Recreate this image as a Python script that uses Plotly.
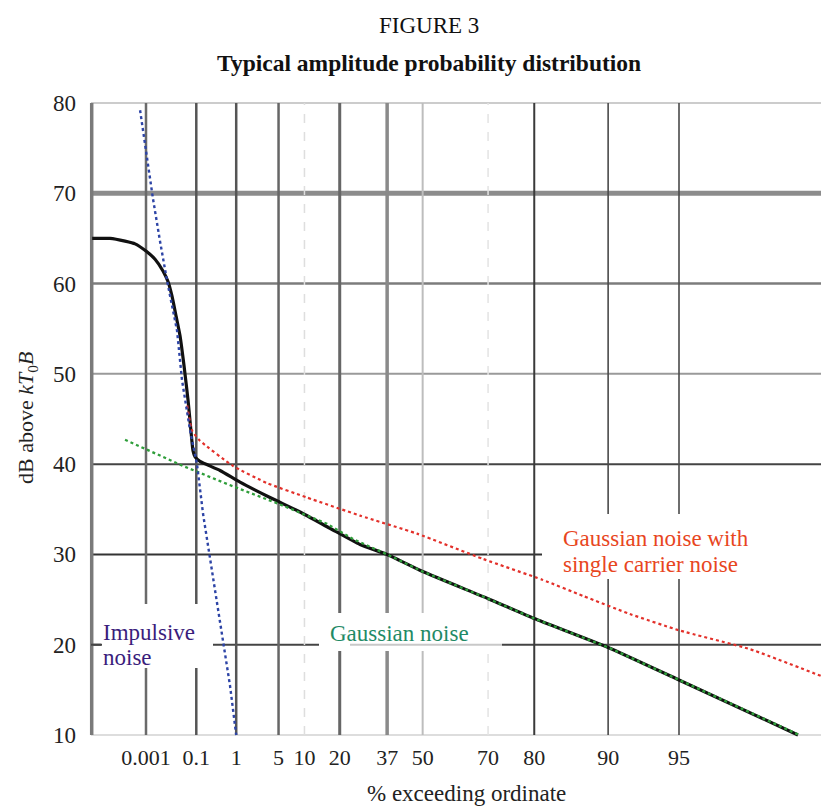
import numpy as np
import plotly.graph_objects as go

# ---------------- data ----------------
XTICK_LABELS = ["0.001", "0.1", "1", "5", "10", "20", "37", "50", "70", "80", "90", "95"]
XTICK_PCT = [0.001, 0.1, 1, 5, 10, 20, 37, 50, 70, 80, 90, 95]
YTICKS = [10, 20, 30, 40, 50, 60, 70, 80]

# composite (black) curve: % exceeding ordinate, dB above kT0B
COMPOSITE_PCT = [2.3e-7, 6.2e-6, 6.5e-5, 2.6e-4, 0.001, 0.00275, 0.0062, 0.0101, 0.0145,
                 0.0207, 0.029, 0.040, 0.055, 0.068, 0.079, 0.092, 0.129, 0.44, 1.19,
                 3.81, 9.0, 16.9, 27.0, 37, 50, 70, 80, 90, 95, 98.48]
COMPOSITE_DB = [65.0, 65.0, 64.7, 64.4, 63.6, 62.7, 61.4, 60.2, 58.6,
                56.4, 54.2, 50.9, 47.0, 43.7, 41.5, 40.8, 40.3, 39.3, 38.0,
                36.3, 34.7, 32.9, 31.1, 30.0, 28.1, 25.1, 22.9, 19.7, 16.1, 10.0]

# Gaussian noise (green dotted)
GAUSS_PCT = [6.5e-5, 0.037, 0.64, 5, 16.0, 24.5, 37, 50, 70, 80, 90, 95, 98.5]
GAUSS_DB = [42.7, 39.8, 37.8, 35.6, 33.4, 31.7, 30.0, 28.1, 25.1, 22.9, 19.7, 16.1, 10.0]

# Gaussian noise with single carrier noise (red dotted)
CARRIER_PCT = [0.051, 0.074, 0.129, 0.86, 3.45, 10.6, 27.0, 48.0, 68.7, 81.4, 87.3,
               91.9, 95.0, 97.54, 98.86]
CARRIER_DB = [46.5, 43.7, 42.6, 39.8, 37.9, 36.3, 34.3, 32.3, 29.5, 27.2, 25.4,
              23.4, 21.6, 19.5, 16.3]

# Impulsive noise (blue dotted)
IMPULSE_PCT = [4.9e-4, 0.00113, 0.0022, 0.0046, 0.0092, 0.0225, 0.034, 0.064, 0.105,
               0.158, 0.246, 0.372, 0.52, 0.74, 1.0]
IMPULSE_DB = [79.2, 73.9, 69.4, 64.7, 60.3, 54.8, 49.3, 43.7, 40.0,
              34.5, 29.5, 24.7, 20.0, 15.5, 10.0]


# Rayleigh-paper abscissa
def ray(pct):
    return -np.log10(-np.log(np.asarray(pct, dtype=float) / 100.0))


# ---------------- layout geometry (page pixels; the page body adds an 8 px offset) ----------------
PAGE_W, PAGE_H = 829, 809
OFF = 8
L_PX, R_PX, T_PX, B_PX = 86, 829, 101, 737
PX_PER_U = 226.7
REF_PX = 146.0
U_REF = float(ray(0.001))
PX_PER_DB = 632.0 / 70.0
x_range = [U_REF - (REF_PX - L_PX) / PX_PER_U, U_REF + (R_PX - REF_PX) / PX_PER_U]
y_range = [10 - (B_PX - 735) / PX_PER_DB, 80 + (103 - T_PX) / PX_PER_DB]


def ux(px):
    return U_REF + (px - REF_PX) / PX_PER_U


def dby(py):
    return 10 + (735 - py) / PX_PER_DB


def xpap(px):
    return (px - L_PX) / (R_PX - L_PX)


def ypap(py):
    return (B_PX - py) / (B_PX - T_PX)


FONT = "Liberation Serif"

fig = go.Figure()

# ---------------- grid lines ----------------
VGRID_STYLE = {
    "0.001": ("#6a6a6a", 2.5, "solid"),
    "0.1": ("#555555", 2.5, "solid"),
    "1": ("#555555", 2.5, "solid"),
    "5": ("#666666", 2.5, "solid"),
    "10": ("#dedede", 1.5, "dash"),
    "20": ("#666666", 3, "solid"),
    "37": ("#8a8a8a", 3.5, "solid"),
    "50": ("#bdbdbd", 2, "solid"),
    "70": ("#e3e3e3", 1.5, "dash"),
    "80": ("#3a3a3a", 2, "solid"),
    "90": ("#4a4a4a", 1.6, "solid"),
    "95": ("#4a4a4a", 1.6, "solid"),
}
HGRID_STYLE = {
    80: ("#cccccc", 2, None),
    70: ("#8c8c8c", 5, None),
    60: ("#7c7c7c", 2.5, None),
    50: ("#9a9a9a", 2, None),
    40: ("#444444", 2, None),
    30: ("#333333", 2, 542),
    20: ("#444444", 2, None),
    10: ("#dddddd", 2, None),
}

shapes = []
for v in YTICKS:
    col, wdt, xend = HGRID_STYLE[v]
    x1 = ux(xend) if xend else x_range[1]
    shapes.append(dict(type="line", xref="x", yref="y", x0=ux(91), x1=x1, y0=v, y1=v,
                       line=dict(color=col, width=wdt), layer="below"))
for lab, p in zip(XTICK_LABELS, XTICK_PCT):
    col, wdt, dsh = VGRID_STYLE[lab]
    xv = float(ray(p))
    shapes.append(dict(type="line", xref="x", yref="y", x0=xv, x1=xv, y0=10, y1=80,
                       line=dict(color=col, width=wdt, dash=dsh), layer="below"))
# left frame line
shapes.append(dict(type="line", xref="x", yref="y", x0=ux(91.7), x1=ux(91.7), y0=10, y1=80,
                   line=dict(color="#7a7a7a", width=3.5), layer="below"))

# white masks behind the in-plot labels (as in the original figure)
masks = [(102, 213, 604, 668), (319, 502, 613, 651), (544, 829, 514, 579)]
for x0, x1, y0, y1 in masks:
    shapes.append(dict(type="rect", xref="x", yref="y", x0=ux(x0), x1=ux(x1),
                       y0=dby(y1), y1=dby(y0), fillcolor="white", line=dict(width=0),
                       layer="below"))
# light continuation of the 20 dB line under "Gaussian noise"
shapes.append(dict(type="line", xref="x", yref="y", x0=ux(350), x1=ux(502), y0=20, y1=20,
                   line=dict(color="#c8c8c8", width=2), layer="below"))
# short left tick at 20
shapes.append(dict(type="line", xref="x", yref="y", x0=ux(91), x1=ux(101), y0=20, y1=20,
                   line=dict(color="#444444", width=2), layer="below"))

# ---------------- traces ----------------
fig.add_trace(go.Scatter(x=ray(COMPOSITE_PCT), y=COMPOSITE_DB, mode="lines",
                         line=dict(color="#111111", width=3.2, shape="spline", smoothing=0.5),
                         showlegend=False, name="composite"))
fig.add_trace(go.Scatter(x=ray(GAUSS_PCT), y=GAUSS_DB, mode="lines",
                         line=dict(color="#2f9e3a", width=2.3, dash="dot"),
                         showlegend=False, name="Gaussian noise"))
fig.add_trace(go.Scatter(x=ray(CARRIER_PCT), y=CARRIER_DB, mode="lines",
                         line=dict(color="#e3302a", width=2.2, dash="dot", shape="spline",
                                   smoothing=0.5),
                         showlegend=False, name="Gaussian noise with single carrier noise"))
fig.add_trace(go.Scatter(x=ray(IMPULSE_PCT), y=IMPULSE_DB, mode="lines",
                         line=dict(color="#2d44a6", width=2.4, dash="dot"),
                         showlegend=False, name="Impulsive noise"))

# ---------------- annotations ----------------
ann = []


def label(text, px, py, color, size=23, xanchor="left", ref="data", **kw):
    if ref == "data":
        d = dict(xref="x", yref="y", x=ux(px), y=dby(py))
    else:
        d = dict(xref="paper", yref="paper", x=xpap(px), y=ypap(py))
    d.update(text=text, showarrow=False, xanchor=xanchor, yanchor="middle",
             font=dict(family=FONT, size=size, color=color))
    d.update(kw)
    ann.append(d)


label("Impulsive", 101, 632, "#3a1d7c")
label("noise", 101, 657, "#3a1d7c")
label("Gaussian noise", 328, 633, "#1f8a66")
label("Gaussian noise with", 561, 538, "#e8461e")
label("single carrier noise", 561, 564, "#e8461e")

label("FIGURE 3", 428.5, 25, "#111111", size=23, xanchor="center", ref="paper")
label("<b>Typical amplitude probability distribution</b>", 428.5, 63, "#111111", size=23.5,
      xanchor="center", ref="paper")
label("% exceeding ordinate", 466, 793, "#222222", size=23, xanchor="center", ref="paper")
label("dB above <i>kT</i><sub>0</sub><i>B</i>", 27, 418, "#222222", size=22,
      xanchor="center", ref="paper", textangle=-90)

W = PAGE_W - OFF
H = PAGE_H - OFF
fig.update_layout(
    width=W, height=H,
    margin=dict(l=L_PX - OFF, r=PAGE_W - R_PX, t=T_PX - OFF, b=PAGE_H - B_PX, pad=0),
    paper_bgcolor="white", plot_bgcolor="white",
    shapes=shapes, annotations=ann, showlegend=False,
    xaxis=dict(range=x_range, tickvals=ray(XTICK_PCT), ticktext=XTICK_LABELS,
               showgrid=False, zeroline=False, showline=False, ticks="",
               ticklabelstandoff=5,
               tickfont=dict(family=FONT, size=22, color="#222222")),
    yaxis=dict(range=y_range, tickvals=YTICKS, showgrid=False, zeroline=False,
               showline=False, ticks="", ticklabelstandoff=9,
               tickfont=dict(family=FONT, size=23, color="#222222")),
)

fig.write_html("out.html")
